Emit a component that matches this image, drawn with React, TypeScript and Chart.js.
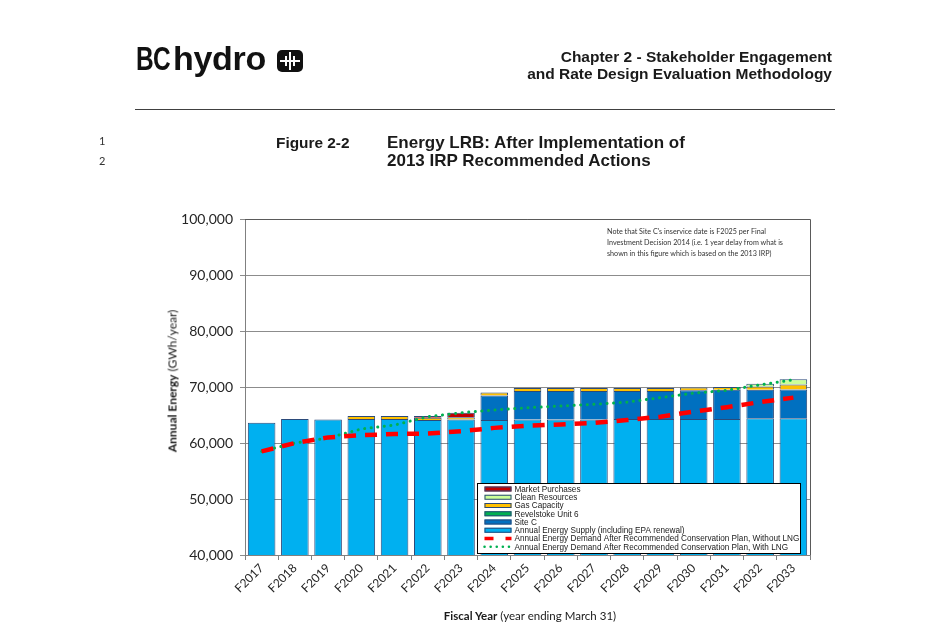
import React, { useEffect, useRef } from "react";
import { Chart, registerables } from "chart.js";

Chart.register(...registerables);

const categories = [
  "F2017", "F2018", "F2019", "F2020", "F2021", "F2022", "F2023", "F2024", "F2025",
  "F2026", "F2027", "F2028", "F2029", "F2030", "F2031", "F2032", "F2033",
];
const annualSupply = [63600, 64300, 64200, 64300, 64300, 64100, 64200, 64100, 64200, 64200, 64200, 64300, 64300, 64300, 64300, 64400, 64400];
const siteC = [0, 0, 0, 0, 0, 0, 0, 4400, 5100, 5100, 5100, 5000, 5000, 5100, 5200, 5100, 5150];
const revelstokeUnit6 = [0, 0, 0, 0, 0, 0, 0, 0, 0, 0, 0, 0, 0, 0, 0, 0, 0];
const gasCapacity = [0, 0, 0, 500, 500, 400, 400, 500, 500, 500, 500, 500, 500, 500, 500, 600, 900];
const cleanResources = [0, 0, 0, 0, 0, 0, 0, 0, 0, 0, 0, 0, 0, 0, 0, 500, 950];
const marketPurchases = [0, 0, 0, 0, 0, 300, 800, 0, 0, 0, 0, 0, 0, 0, 0, 0, 0];
const demandWithoutLNG = [58500, 60000, 61000, 61400, 61600, 61700, 62100, 62700, 63100, 63300, 63600, 64100, 64700, 65600, 66400, 67300, 68100];
const demandWithLNG = [58500, 60000, 60900, 62500, 63200, 64700, 65400, 65900, 66300, 66600, 66900, 67300, 68100, 68900, 69400, 70400, 71300];
const yTicks = [40000, 50000, 60000, 70000, 80000, 90000, 100000];

const BAR_BORDER = "#2B4A7A";

const framePlugin = {
  id: "plotFrame",
  beforeDatasetsDraw(chart: any) {
    const { ctx, chartArea } = chart;
    ctx.save();
    ctx.strokeStyle = "#5A5A5A";
    ctx.lineWidth = 1;
    ctx.beginPath();
    ctx.moveTo(chartArea.left, chartArea.top + 0.5);
    ctx.lineTo(chartArea.right + 0.5, chartArea.top + 0.5);
    ctx.lineTo(chartArea.right + 0.5, chartArea.bottom);
    ctx.stroke();
    ctx.restore();
  },
};

const legendOrder = [5, 4, 3, 2, 1, 0, 6, 7];

const boxLegendPlugin = {
  id: "boxLegend",
  afterDraw(chart: any) {
    const { ctx, chartArea } = chart;
    const w = 323;
    const h = 70;
    const x0 = Math.round(chartArea.right - 10 - w) + 0.5;
    const y0 = Math.round(chartArea.bottom - 2 - h) + 0.5;
    ctx.save();
    ctx.fillStyle = "#FFFFFF";
    ctx.fillRect(x0, y0, w, h);
    ctx.strokeStyle = "#000000";
    ctx.lineWidth = 1;
    ctx.strokeRect(x0, y0, w, h);
    ctx.font = '8.2px "Liberation Sans"';
    ctx.textBaseline = "middle";
    legendOrder.forEach((di, row) => {
      const ds = chart.data.datasets[di];
      const cy = y0 + 5.5 + row * 8.25;
      const sx = x0 + 7;
      const sw = 27;
      if (ds.type === "line") {
        ctx.save();
        ctx.strokeStyle = ds.borderColor;
        if (di === 6) {
          ctx.lineWidth = 3.5;
          ctx.setLineDash([9, 12]);
          ctx.lineCap = "butt";
        } else {
          ctx.lineWidth = 2.5;
          ctx.setLineDash([0.1, 6]);
          ctx.lineCap = "round";
        }
        ctx.beginPath();
        ctx.moveTo(sx, cy);
        ctx.lineTo(sx + sw, cy);
        ctx.stroke();
        ctx.restore();
      } else {
        ctx.fillStyle = ds.backgroundColor;
        ctx.fillRect(sx, cy - 2.5, sw, 5);
        ctx.strokeStyle = BAR_BORDER;
        ctx.lineWidth = 1;
        ctx.strokeRect(sx + 0.5, cy - 2, sw - 1, 4);
      }
      ctx.fillStyle = "#1A1A1A";
      ctx.fillText(ds.label, sx + sw + 3, cy + 0.5);
    });
    ctx.restore();
  },
};

function barSet(label: string, data: number[], color: string) {
  return {
    type: "bar" as const,
    label,
    data,
    backgroundColor: color,
    borderColor: BAR_BORDER,
    borderWidth: 1,
    borderSkipped: "start",
    stack: "supply",
    order: 2,
    barPercentage: 0.83,
    categoryPercentage: 1,
    clip: 0,
  };
}

export default function App() {
  const canvasRef = useRef<HTMLCanvasElement | null>(null);

  useEffect(() => {
    if (!canvasRef.current) return;
    const chart = new Chart(canvasRef.current, {
      type: "bar",
      data: {
        labels: categories,
        datasets: [
          barSet("Annual Energy Supply (including EPA renewal)", annualSupply, "#00B0F0"),
          barSet("Site C", siteC, "#0070C0"),
          barSet("Revelstoke Unit 6", revelstokeUnit6, "#00B050"),
          barSet("Gas Capacity", gasCapacity, "#FFC000"),
          barSet("Clean Resources", cleanResources, "#CCFF99"),
          barSet("Market Purchases", marketPurchases, "#C00000"),
          {
            type: "line",
            label: "Annual Energy Demand After Recommended Conservation Plan, Without LNG",
            data: demandWithoutLNG,
            borderColor: "#FF0000",
            backgroundColor: "#FF0000",
            borderWidth: 4.5,
            borderDash: [12, 9],
            borderCapStyle: "butt",
            pointRadius: 0,
            tension: 0,
            fill: false,
            stack: "demandA",
            order: 0,
          } as any,
          {
            type: "line",
            label: "Annual Energy Demand After Recommended Conservation Plan, With LNG",
            data: demandWithLNG,
            borderColor: "#00B050",
            backgroundColor: "#00B050",
            borderWidth: 3,
            borderDash: [0.1, 6.5],
            borderCapStyle: "round",
            pointRadius: 0,
            tension: 0,
            fill: false,
            stack: "demandB",
            order: 1,
          } as any,
        ],
      },
      options: {
        responsive: false,
        animation: false,
        events: [],
        layout: { padding: { left: 150, right: 130, top: 219, bottom: 0 } },
        plugins: {
          legend: { display: false },
          tooltip: { enabled: false },
          title: { display: false },
        },
        scales: {
          x: {
            stacked: true,
            offset: true,
            grid: {
              offset: true,
              drawOnChartArea: false,
              drawTicks: true,
              tickLength: 5,
              color: "#808080",
            },
            border: { color: "#808080" },
            ticks: {
              autoSkip: false,
              maxRotation: 45,
              minRotation: 45,
              padding: 1,
              color: "#262626",
              font: { family: "Lato", size: 12 },
            },
            afterFit(scale: any) {
              scale.height = 83;
              scale.paddingLeft = 0;
              scale.paddingRight = 0;
            },
          },
          y: {
            stacked: true,
            min: 40000,
            max: 100000,
            afterBuildTicks(scale: any) {
              scale.ticks = yTicks.map((v) => ({ value: v }));
            },
            grid: {
              color: "#8C8C8C",
              tickLength: 5,
              drawTicks: true,
            },
            border: { color: "#808080" },
            ticks: {
              padding: 7,
              color: "#262626",
              font: { family: "Lato", size: 14 },
              callback: (v: any) => Number(v).toLocaleString("en-US"),
            },
            afterFit(scale: any) {
              scale.width = 95;
            },
          },
        },
      },
      plugins: [framePlugin, boxLegendPlugin],
    });
    return () => chart.destroy();
  }, []);

  const abs = (s: React.CSSProperties): React.CSSProperties => ({ position: "absolute", whiteSpace: "nowrap", ...s });

  return (
    <div style={{ position: "absolute", left: 0, top: 0, width: 940, height: 638, background: "#FFFFFF", overflow: "hidden" }}>
      <canvas ref={canvasRef} width={940} height={638} style={{ position: "absolute", left: 0, top: 0, width: 940, height: 638 }} />

      {/* Logo */}
      <div style={abs({ left: 136, top: 38, fontFamily: '"Liberation Sans", Arial, sans-serif', fontWeight: 700, fontSize: 34, color: "#111", lineHeight: "40px" })}>
        <span style={{ display: "inline-block", transform: "scaleX(0.72)", transformOrigin: "left center", width: 37, letterSpacing: -1 }}>BC</span>
        <span style={{ display: "inline-block", transform: "scaleX(1.0)", transformOrigin: "left center", letterSpacing: -0.3 }}>hydro</span>
      </div>
      <div style={abs({ left: 277, top: 50, width: 26, height: 22, background: "#111", borderRadius: 5 })}>
        <div style={abs({ left: 12, top: 2, width: 2, height: 18, background: "#FFF" })} />
        <div style={abs({ left: 3, top: 10, width: 20, height: 2, background: "#FFF" })} />
        <div style={abs({ left: 8, top: 6, width: 2, height: 10, background: "#FFF" })} />
        <div style={abs({ left: 16, top: 6, width: 2, height: 10, background: "#FFF" })} />
      </div>

      {/* Right header */}
      <div style={abs({ right: 108, top: 48, textAlign: "right", fontFamily: '"Liberation Sans", Arial, sans-serif', fontWeight: 700, fontSize: 15.5, lineHeight: "17px", color: "#1A1A1A" })}>
        <div>Chapter 2 - Stakeholder Engagement</div>
        <div>and Rate Design Evaluation Methodology</div>
      </div>
      <div style={abs({ left: 135, top: 109, width: 700, height: 0, borderTop: "1px solid #404040" })} />

      {/* line numbers */}
      <div style={abs({ left: 99, top: 134, fontFamily: "Lato, sans-serif", fontSize: 11, lineHeight: "14px", color: "#333" })}>1</div>
      <div style={abs({ left: 99, top: 154, fontFamily: "Lato, sans-serif", fontSize: 11, lineHeight: "14px", color: "#333" })}>2</div>

      {/* Figure title */}
      <div style={abs({ left: 276, top: 134, fontFamily: '"Liberation Sans", Arial, sans-serif', fontWeight: 700, fontSize: 15.4, lineHeight: "18px", color: "#1A1A1A" })}>Figure 2-2</div>
      <div style={abs({ left: 387, top: 134, fontFamily: '"Liberation Sans", Arial, sans-serif', fontWeight: 700, fontSize: 17, lineHeight: "18px", color: "#1A1A1A" })}>
        <div>Energy LRB: After Implementation of</div>
        <div>2013 IRP Recommended Actions</div>
      </div>

      {/* Note */}
      <div style={abs({ left: 607, top: 226, fontFamily: "Lato, sans-serif", fontSize: 7.2, lineHeight: "11px", color: "#333" })}>
        <div>Note that Site C's inservice date is F2025 per Final</div>
        <div>Investment Decision 2014 (i.e. 1 year delay from what is</div>
        <div>shown in this figure which is based on the 2013 IRP)</div>
      </div>

      {/* Axis titles */}
      <div style={abs({ left: 172, top: 381, transform: "translate(-50%, -50%) rotate(-90deg)", fontFamily: "Lato, sans-serif", fontSize: 12, color: "#1A1A1A" })}>
        <span style={{ fontWeight: 700 }}>Annual Energy</span> (GWh/year)
      </div>
      <div style={abs({ left: 530, top: 615, transform: "translate(-50%, -50%)", fontFamily: "Lato, sans-serif", fontSize: 11.5, color: "#1A1A1A" })}>
        <span style={{ fontWeight: 700 }}>Fiscal Year</span> (year ending March 31)
      </div>
    </div>
  );
}
